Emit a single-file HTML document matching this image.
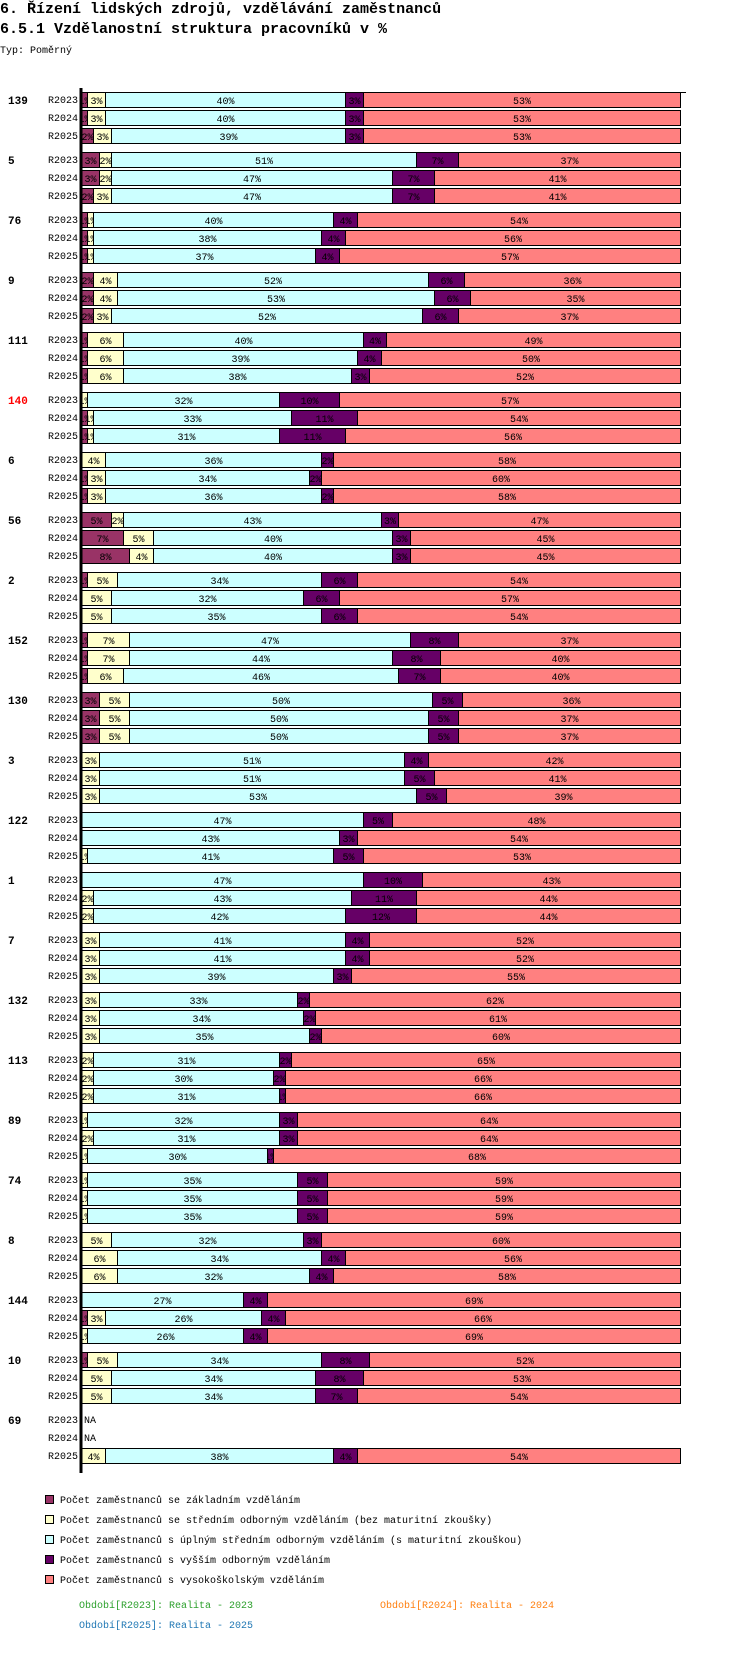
<!DOCTYPE html>
<html><head><meta charset="utf-8">
<style>
html,body{margin:0;padding:0;background:#fff;}
svg text{font-family:"Liberation Mono","DejaVu Sans Mono",monospace;}
</style></head>
<body>
<svg id="chart" width="750" height="1662" viewBox="0 0 750 1662" xmlns="http://www.w3.org/2000/svg">
<text x="0" y="13" font-size="15" font-weight="bold">6. Řízení lidských zdrojů, vzdělávání zaměstnanců</text>
<text x="0" y="33" font-size="15" font-weight="bold">6.5.1 Vzdělanostní struktura pracovníků v %</text>
<text x="0" y="53" font-size="10">Typ: Poměrný</text>
<g id="bars"></g>
<line x1="81" y1="88" x2="81" y2="1473" stroke="#000" stroke-width="3"/>
<line x1="81" y1="92.5" x2="686" y2="92.5" stroke="#000" stroke-width="1"/>
<g id="legend"></g>
<text x="79" y="1608" font-size="10" fill="#2ca02c">Období[R2023]: Realita - 2023</text>
<text x="380" y="1608" font-size="10" fill="#ff7f0e">Období[R2024]: Realita - 2024</text>
<text x="79" y="1628" font-size="10" fill="#1f77b4">Období[R2025]: Realita - 2025</text>
</svg>
<script>
const groups = ["139","5","76","9","111","140","6","56","2","152","130","3","122","1","7","132","113","89","74","8","144","10","69"];
const periods = ["R2023","R2024","R2025"];
const seriesNames = ["Počet zaměstnanců se základním vzděláním","Počet zaměstnanců se středním odborným vzděláním (bez maturitní zkoušky)","Počet zaměstnanců s úplným středním odborným vzděláním (s maturitní zkouškou)","Počet zaměstnanců s vyšším odborným vzděláním","Počet zaměstnanců s vysokoškolským vzděláním"];
const seriesColors = ["#993366","#ffffcc","#ccffff","#660066","#ff8080"];
const values = [
[[1,3,40,3,53],[1,3,40,3,53],[2,3,39,3,53]],
[[3,2,51,7,37],[3,2,47,7,41],[2,3,47,7,41]],
[[1,1,40,4,54],[1,1,38,4,56],[1,1,37,4,57]],
[[2,4,52,6,36],[2,4,53,6,35],[2,3,52,6,37]],
[[1,6,40,4,49],[1,6,39,4,50],[1,6,38,3,52]],
[[0,1,32,10,57],[1,1,33,11,54],[1,1,31,11,56]],
[[0,4,36,2,58],[1,3,34,2,60],[1,3,36,2,58]],
[[5,2,43,3,47],[7,5,40,3,45],[8,4,40,3,45]],
[[1,5,34,6,54],[0,5,32,6,57],[0,5,35,6,54]],
[[1,7,47,8,37],[1,7,44,8,40],[1,6,46,7,40]],
[[3,5,50,5,36],[3,5,50,5,37],[3,5,50,5,37]],
[[0,3,51,4,42],[0,3,51,5,41],[0,3,53,5,39]],
[[0,0,47,5,48],[0,0,43,3,54],[0,1,41,5,53]],
[[0,0,47,10,43],[0,2,43,11,44],[0,2,42,12,44]],
[[0,3,41,4,52],[0,3,41,4,52],[0,3,39,3,55]],
[[0,3,33,2,62],[0,3,34,2,61],[0,3,35,2,60]],
[[0,2,31,2,65],[0,2,30,2,66],[0,2,31,1,66]],
[[0,1,32,3,64],[0,2,31,3,64],[0,1,30,1,68]],
[[0,1,35,5,59],[0,1,35,5,59],[0,1,35,5,59]],
[[0,5,32,3,60],[0,6,34,4,56],[0,6,32,4,58]],
[[0,0,27,4,69],[1,3,26,4,66],[0,1,26,4,69]],
[[1,5,34,8,52],[0,5,34,8,53],[0,5,34,7,54]],
[null,null,[0,4,38,4,54]]
];
const NS="http://www.w3.org/2000/svg";
const X0=81, X1=680, Y0=92, GROUP_H=60, ROW_H=18, BAR_H=15;
function xScale(frac){return X0+frac*(X1-X0);}
function groupY(g){return Y0+g*GROUP_H;}
function mk(tag,attrs,parent){const e=document.createElementNS(NS,tag);for(const k in attrs)e.setAttribute(k,attrs[k]);parent.appendChild(e);return e;}
const barsG=document.getElementById('bars');
groups.forEach((gname,gi)=>{
  const gy=groupY(gi);
  const gl=mk('text',{x:8,y:gy+12,'font-size':11,'font-weight':'bold',fill:gname==="140"?"#ff0000":"#000"},barsG);
  
  
  gl.textContent=gname;
  periods.forEach((p,pi)=>{
    const ry=gy+pi*ROW_H;
    const pl=mk('text',{x:78,y:ry+11,'font-size':10,'text-anchor':'end'},barsG);
    
    
    pl.textContent=p;
    const row=values[gi][pi];
    if(!row){
      const na=mk('text',{x:84,y:ry+11,'font-size':10},barsG);
      
      
      na.textContent="NA";
      return;
    }
    const total=row.reduce((a,b)=>a+b,0);
    let cum=0;
    row.forEach((v,si)=>{
      if(v<=0)return;
      const xa=Math.round(xScale(cum/total));
      cum+=v;
      const xb=Math.round(xScale(cum/total));
      const w=Math.max(xb-xa,1);
      const r=mk('rect',{x:xa+0.5,y:ry+0.5,width:w,height:BAR_H,fill:seriesColors[si],stroke:'#000','stroke-width':1},barsG);
      
      
      const clip=mk('svg',{x:xa+1,y:ry+1,width:Math.max(w-1,0),height:BAR_H-1,overflow:'hidden'},barsG);
      const t=mk('text',{x:(w-1)/2,y:11,'font-size':10,'text-anchor':'middle',fill:'#000'},clip);
      
      
      t.textContent=v+"%";
    });
  });
});
const legG=document.getElementById('legend');
seriesNames.forEach((n,i)=>{
  const y=1495+i*20;
  const s=mk('rect',{x:45.5,y:y+0.5,width:8,height:8,fill:seriesColors[i],stroke:'#000','stroke-width':1},legG);
  
  
  const t=mk('text',{x:60,y:y+8,'font-size':10},legG);
  
  
  t.textContent=n;
});
</script>
</body></html>
